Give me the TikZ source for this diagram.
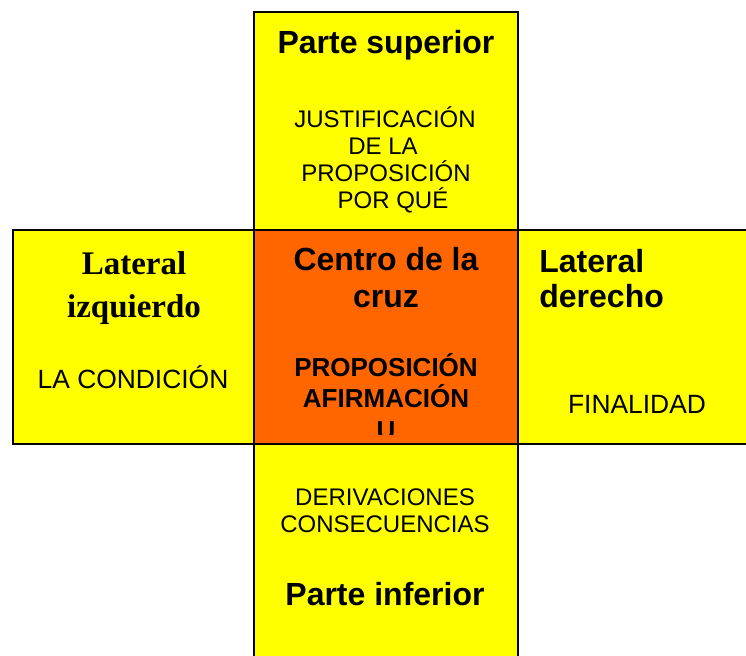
\documentclass[tikz,border=0pt]{standalone}
\usepackage{fontspec}
\setmainfont{Liberation Serif}
\setsansfont{Liberation Sans}
\definecolor{amarillo}{HTML}{FFFF00}
\definecolor{naranja}{HTML}{FF6600}
\begin{document}
\begin{tikzpicture}[x=0.5pt,y=-0.5pt,
	caja/.style={draw=black, line width=0.8pt},
	titulo/.style={black, inner sep=0pt, font=\sffamily\bfseries\fontsize{16}{18.4}\selectfont},
	tituloserif/.style={black, inner sep=0pt, font=\rmfamily\bfseries\fontsize{16.5}{21.5}\selectfont},
	texto/.style={black, inner sep=0pt, font=\sffamily\fontsize{12}{13.8}\selectfont},
	textogrande/.style={black, inner sep=0pt, font=\sffamily\fontsize{13.2}{15}\selectfont},
	textonegrita/.style={black, inner sep=0pt, font=\sffamily\bfseries\fontsize{13}{15}\selectfont}]
	\useasboundingbox (0,0) rectangle (746,655);
	\clip (0,0) rectangle (746,655);
	% las cinco cajas de la cruz
	\filldraw[caja, fill=amarillo] (254,12) rectangle (518,230);
	\filldraw[caja, fill=amarillo] (13,230) rectangle (254,444);
	\filldraw[caja, fill=amarillo] (518,230) rectangle (770,444);
	\filldraw[caja, fill=amarillo] (254,444) rectangle (518,680);
	\filldraw[caja, fill=naranja] (254,230) rectangle (518,444);
	% parte superior
	\node[titulo, anchor=base] (sup) at (386,53) {Parte superior};
	\node[texto, anchor=base] (sup1) at (385,127) {JUSTIFICACIÓN};
	\node[texto, anchor=base] (sup2) at (383,154) {DE LA};
	\node[texto, anchor=base] (sup3) at (386,181) {PROPOSICIÓN};
	\node[texto, anchor=base] (sup4) at (393,208) {POR QUÉ};
	% lateral izquierdo
	\node[tituloserif, anchor=base] (izq1) at (134,274) {Lateral};
	\node[tituloserif, anchor=base] (izq2) at (134,317) {izquierdo};
	\node[textogrande, anchor=base] (izq3) at (133,388) {LA CONDICIÓN};
	% centro
	\node[titulo, anchor=base] (cen1) at (386,270) {Centro de la};
	\node[titulo, anchor=base] (cen2) at (386,307) {cruz};
	\node[textonegrita, anchor=base] (cen3) at (386,376) {PROPOSICIÓN};
	\node[textonegrita, anchor=base] (cen4) at (386,407) {AFIRMACIÓN};
	\begin{scope}
		\clip (254,230) rectangle (518,434);
		\node[textonegrita, anchor=base] (cen5) at (386,439) {U};
	\end{scope}
	% lateral derecho
	\node[titulo, anchor=base west] (der1) at (539,272) {Lateral};
	\node[titulo, anchor=base west] (der2) at (539,307) {derecho};
	\node[textogrande, anchor=base] (der3) at (637,413) {FINALIDAD};
	% parte inferior
	\node[texto, anchor=base] (inf1) at (385,505) {DERIVACIONES};
	\node[texto, anchor=base] (inf2) at (385,532) {CONSECUENCIAS};
	\node[titulo, anchor=base] (inf) at (385,605) {Parte inferior};
\end{tikzpicture}
\end{document}
